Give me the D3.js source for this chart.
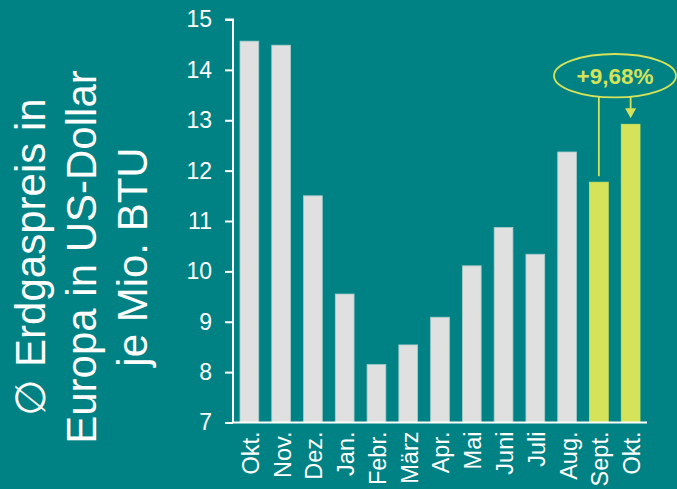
<!DOCTYPE html>
<html>
<head>
<meta charset="utf-8">
<script src="https://d3js.org/d3.v7.min.js"></script>
<style>
  body { margin: 0; background: #008285; }
  svg { display: block; font-family: "Liberation Sans", Arial, sans-serif; }
</style>
</head>
<body>
<div id="chart"></div>
<script>
var width = 677, height = 489;

// data
var months = ["Okt.", "Nov.", "Dez.", "Jan.", "Febr.", "März", "Apr.", "Mai", "Juni", "Juli", "Aug.", "Sept.", "Okt."];
var prices = [14.57, 14.49, 11.5, 9.55, 8.15, 8.54, 9.09, 10.11, 10.87, 10.34, 12.37, 11.77, 12.92];
var highlight = [false, false, false, false, false, false, false, false, false, false, false, true, true];
var yTicks = [7, 8, 9, 10, 11, 12, 13, 14, 15];
var titleLines = ["\u2205 Erdgaspreis in", "Europa in US-Dollar", "je Mio. BTU"];
var changeLabel = "+9,68%";

var bg = "#008285", grey = "#dfe0df", lime = "#d4e35a";

var svg = d3.select("#chart").append("svg")
  .attr("width", width)
  .attr("height", height);

svg.append("rect").attr("width", width).attr("height", height).attr("fill", bg);

var x = d3.scaleBand()
  .domain(d3.range(months.length))
  .range([233, 647])
  .paddingInner(0.41)
  .paddingOuter(0.22);

var y = d3.scaleLinear()
  .domain([7, 15])
  .range([422.5, 19.5]);

// bars
svg.append("g").selectAll("rect")
  .data(prices)
  .enter().append("rect")
  .attr("x", (d, i) => x(i))
  .attr("y", d => y(d))
  .attr("width", x.bandwidth())
  .attr("height", d => y(7) - y(d))
  .attr("fill", (d, i) => highlight[i] ? lime : grey)
  .attr("stroke", (d, i) => highlight[i] ? lime : "#a9cccc")
  .attr("stroke-width", 0.8);

// y axis
var yAxis = svg.append("g")
  .attr("transform", "translate(233,0)")
  .call(d3.axisLeft(y).tickValues(yTicks).tickSize(8).tickPadding(13));
yAxis.select(".domain").attr("stroke", "#fff").attr("stroke-width", 2)
  .attr("d", "M-8," + y(15) + "H0V" + y(7));
yAxis.selectAll(".tick line").attr("stroke", "#fff").attr("stroke-width", 2);
yAxis.selectAll(".tick text")
  .attr("fill", "#fff")
  .style("font-size", "23px")
  .style("font-family", "'Liberation Sans', Arial, sans-serif");

// x axis line
svg.append("line")
  .attr("x1", 232).attr("x2", 647)
  .attr("y1", y(7)).attr("y2", y(7))
  .attr("stroke", "#fff").attr("stroke-width", 2);

// x labels
svg.append("g").selectAll("text")
  .data(months)
  .enter().append("text")
  .attr("transform", (d, i) => "translate(" + (x(i) + x.bandwidth() / 2 + 1) + "," + (y(7) + 9) + ") rotate(-90)")
  .attr("dy", "0.36em")
  .attr("text-anchor", "end")
  .attr("fill", "#fff")
  .style("font-size", "23.5px")
  .text(d => d);

// y title
var title = svg.append("text")
  .attr("transform", "translate(45,257) rotate(-90)")
  .attr("text-anchor", "middle")
  .attr("fill", "#fff")
  .style("font-size", "42px");
title.selectAll("tspan")
  .data(titleLines)
  .enter().append("tspan")
  .attr("x", 0)
  .attr("y", (d, i) => i * 51)
  .text(d => d);

// annotation
var iSep = 11, iOkt = 12;
var cxSep = x(iSep) + x.bandwidth() / 2;
var cxOkt = x(iOkt) + x.bandwidth() / 2;
var ex = 615, ey = 75.7, rx = 61, ry = 21.7;

svg.append("ellipse")
  .attr("cx", ex).attr("cy", ey).attr("rx", rx).attr("ry", ry)
  .attr("fill", "none").attr("stroke", lime).attr("stroke-width", 1.8);

svg.append("text")
  .attr("x", ex).attr("y", ey + 8)
  .attr("text-anchor", "middle")
  .attr("fill", lime)
  .style("font-size", "22.5px")
  .style("font-weight", "bold")
  .text(changeLabel);

function ellipseBottom(px) {
  var t = (px - ex) / rx;
  return ey + ry * Math.sqrt(1 - t * t);
}

svg.append("line")
  .attr("x1", cxSep).attr("x2", cxSep)
  .attr("y1", ellipseBottom(cxSep)).attr("y2", y(prices[iSep]) - 6)
  .attr("stroke", lime).attr("stroke-width", 1.8);

svg.append("line")
  .attr("x1", cxOkt).attr("x2", cxOkt)
  .attr("y1", ellipseBottom(cxOkt)).attr("y2", y(prices[iOkt]) - 15)
  .attr("stroke", lime).attr("stroke-width", 1.8);

svg.append("path")
  .attr("d", "M" + (cxOkt - 5.5) + "," + (y(prices[iOkt]) - 16) +
             "L" + (cxOkt + 5.5) + "," + (y(prices[iOkt]) - 16) +
             "L" + cxOkt + "," + (y(prices[iOkt]) - 6) + "Z")
  .attr("fill", lime);
</script>
</body>
</html>
